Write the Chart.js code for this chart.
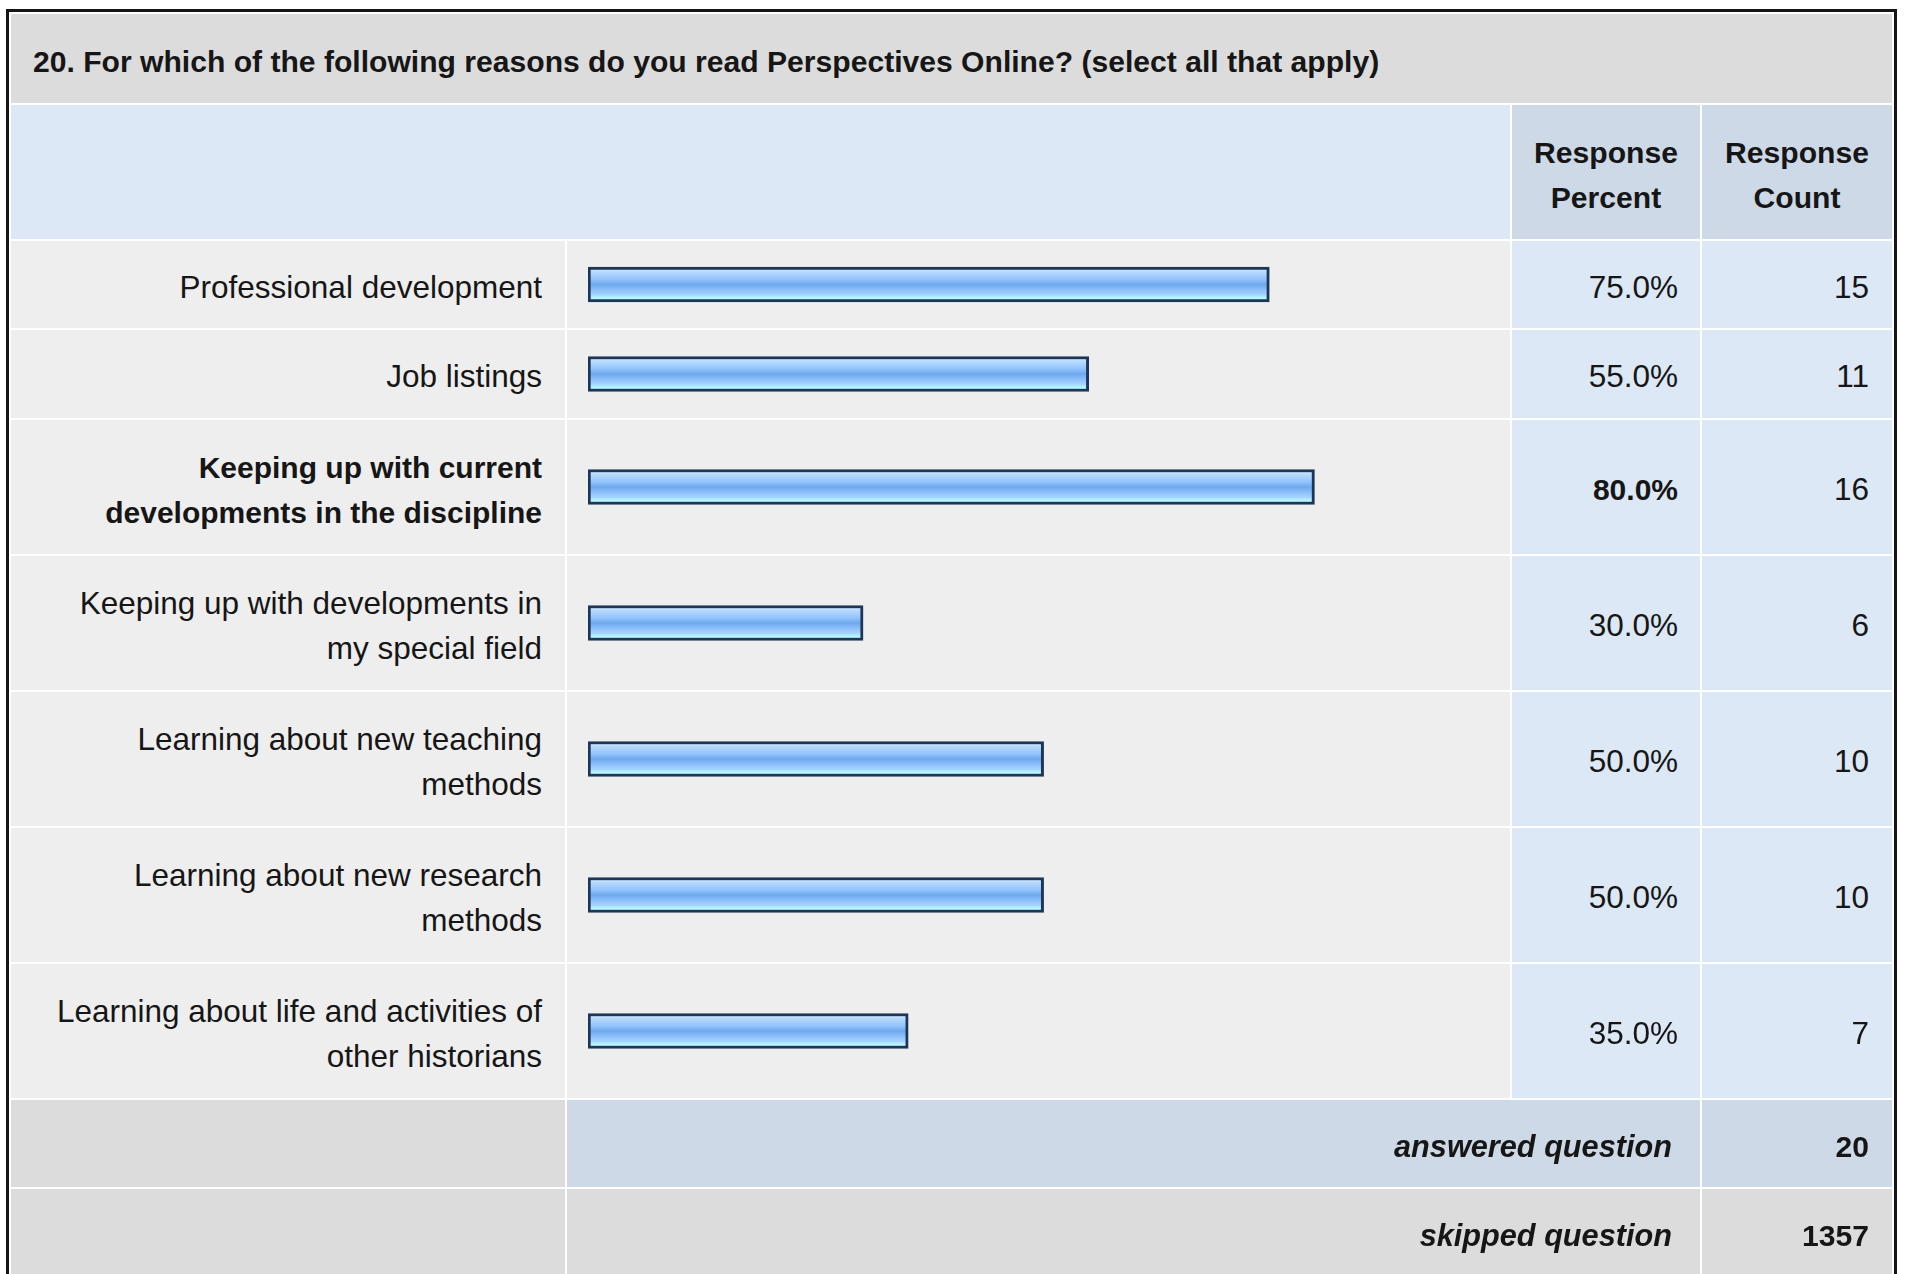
<!DOCTYPE html>
<html lang="en">
<head>
    <meta charset="UTF-8">
    <title>Perspectives Online survey - question 20</title>
    <script src="https://cdn.jsdelivr.net/npm/chart.js"></script>
    <style>
        html, body {
            margin: 0;
            padding: 0;
            background: #ffffff;
            overflow: hidden;
            font-family: "Liberation Sans", Arial, Helvetica, sans-serif;
            color: #161616;
        }
        .frame {
            position: absolute;
            left: 6px;
            top: 9px;
            border: 3px solid #151515;
            padding: 2px;
            background: #ffffff;
        }
        .grid {
            display: grid;
            grid-template-columns: 554px 943px 188px 190px;
            grid-template-rows: 89px 134px 87px 88px 134px 134px 134px 134px 134px 87px 87px;
            gap: 2px;
        }
        .cell {
            display: flex;
            align-items: center;
            font-size: 31.5px;
            line-height: 45px;
            padding-top: 5px;
            box-sizing: border-box;
        }
        .title {
            grid-column: 1 / 5;
            background: #dcdcdc;
            font-weight: bold;
            font-size: 30.1px;
            padding-left: 22px;
        }
        .head-blank { grid-column: 1 / 3; background: #dce8f5; }
        .head {
            background: #cdd9e6;
            font-weight: bold;
            font-size: 30.1px;
            justify-content: center;
            text-align: center;
        }
        .label {
            background: #eeeeee;
            justify-content: flex-end;
            text-align: right;
            padding-right: 23px;
        }
        .bar { background: #eeeeee; padding-top: 0; }
        .pct, .cnt {
            background: #dce8f5;
            justify-content: flex-end;
            padding-right: 22px;
        }
        .cnt { padding-right: 23px; }
        .b { font-weight: bold; font-size: 30px; }
        .sum-blank { background: #dcdcdc; }
        .sum-label {
            grid-column: 2 / 4;
            justify-content: flex-end;
            padding-right: 28px;
            font-weight: bold;
            font-style: italic;
            font-size: 30.7px;
        }
        .sum-cnt {
            justify-content: flex-end;
            padding-right: 23px;
            font-weight: bold;
            font-size: 30.1px;
        }
        .blue { background: #cdd9e6; }
        .gray { background: #dcdcdc; }
        canvas { display: block; }
    </style>
</head>
<body>
    <div class="frame">
        <div class="grid" id="grid"></div>
    </div>

    <script>
        const question = '20. For which of the following reasons do you read Perspectives Online? (select all that apply)';
        const headers = [['Response', 'Percent'], ['Response', 'Count']];
        const answers = [
            ['Professional development'],
            ['Job listings'],
            ['Keeping up with current', 'developments in the discipline'],
            ['Keeping up with developments in', 'my special field'],
            ['Learning about new teaching', 'methods'],
            ['Learning about new research', 'methods'],
            ['Learning about life and activities of', 'other historians']
        ];
        const percents = [75.0, 55.0, 80.0, 30.0, 50.0, 50.0, 35.0];
        const counts = [15, 11, 16, 6, 10, 10, 7];
        const answered = 20;
        const skipped = 1357;

        const rowHeights = [87, 88, 134, 134, 134, 134, 134];
        const maxPct = Math.max(...percents);
        // bars start a few px before the zero point, like the survey tool draws them
        const barStart = -0.47;
        const grid = document.getElementById('grid');

        function cell(cls, html) {
            const d = document.createElement('div');
            d.className = 'cell ' + cls;
            if (html !== undefined) d.innerHTML = html;
            grid.appendChild(d);
            return d;
        }

        cell('title', question);
        cell('head-blank');
        headers.forEach(h => cell('head', h.join('<br>')));

        answers.forEach((lines, i) => {
            const isTop = percents[i] === maxPct;
            cell('label' + (isTop ? ' b' : ''), lines.join('<br>'));
            const barCell = cell('bar');
            const canvas = document.createElement('canvas');
            canvas.width = 943;
            canvas.height = rowHeights[i];
            barCell.appendChild(canvas);
            cell('pct' + (isTop ? ' b' : ''), percents[i].toFixed(1) + '%');
            cell('cnt', counts[i]);

            new Chart(canvas.getContext('2d'), {
                type: 'bar',
                data: {
                    labels: [lines.join(' ')],
                    datasets: [{
                        data: [percents[i]],
                        base: barStart,
                        barThickness: 35,
                        borderWidth: 3,
                        borderColor: '#1c3558',
                        borderSkipped: false,
                        backgroundColor: (ctx) => {
                            const chart = ctx.chart;
                            if (!chart.chartArea) return '#8ec3ff';
                            const yc = chart.scales.y.getPixelForValue(0);
                            const g = chart.ctx.createLinearGradient(0, yc - 17.5, 0, yc + 17.5);
                            g.addColorStop(0.0, '#d8edff');
                            g.addColorStop(0.18, '#b0d6ff');
                            g.addColorStop(0.35, '#93c4fb');
                            g.addColorStop(0.5, '#6ea8ee');
                            g.addColorStop(0.62, '#86bbf8');
                            g.addColorStop(0.78, '#a4d2ff');
                            g.addColorStop(0.88, '#b3f6ff');
                            g.addColorStop(1.0, '#b4ffff');
                            return g;
                        }
                    }]
                },
                options: {
                    indexAxis: 'y',
                    responsive: false,
                    animation: false,
                    layout: { padding: { left: 21, right: 15, top: 0, bottom: 0 } },
                    plugins: { legend: { display: false }, tooltip: { enabled: false } },
                    scales: {
                        x: { min: barStart, max: 100, display: false },
                        y: { display: false }
                    }
                }
            });
        });

        cell('sum-blank');
        cell('sum-label blue', 'answered question');
        cell('sum-cnt blue', answered);
        cell('sum-blank');
        cell('sum-label gray', 'skipped question');
        cell('sum-cnt gray', skipped);
    </script>
</body>
</html>
